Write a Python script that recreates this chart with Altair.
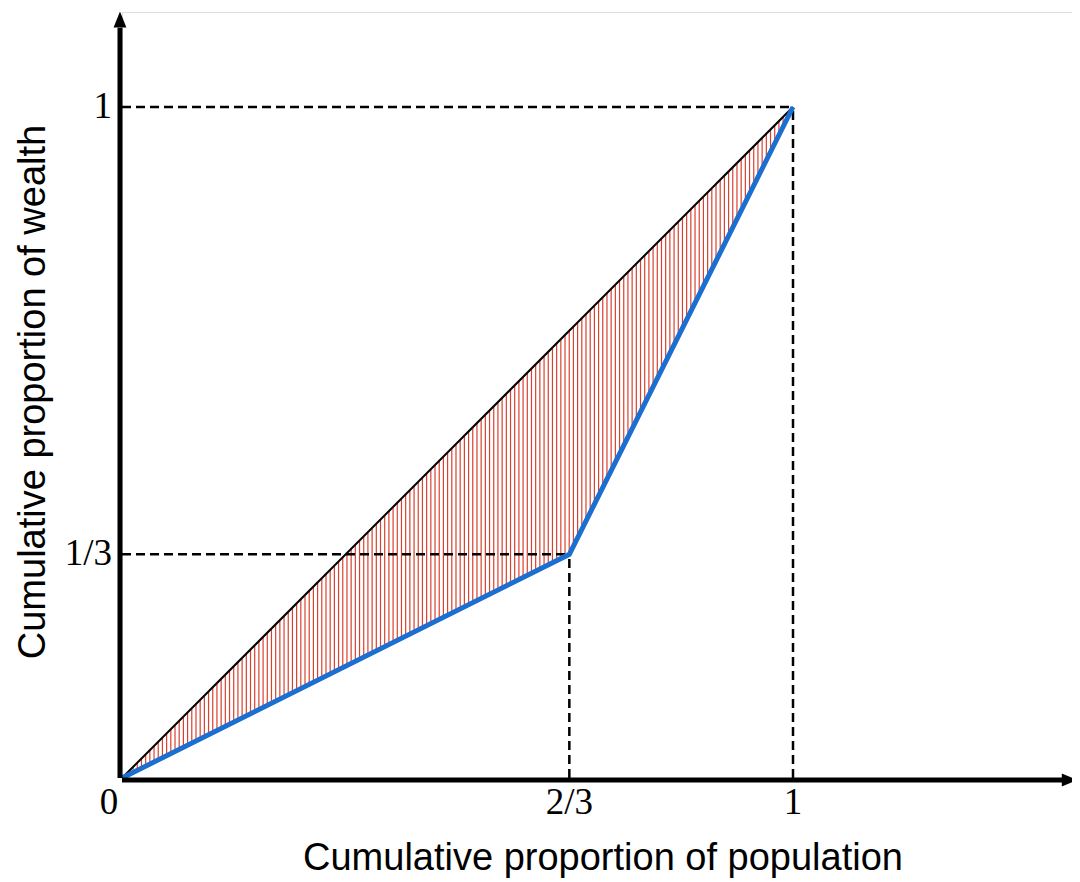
import altair as alt
import numpy as np
import pandas as pd

# Lorenz curve data
pop_share = [0.0, 2/3, 1.0]
wealth_share = [0.0, 1/3, 1.0]
equality_x = [0.0, 1.0]
equality_y = [0.0, 1.0]

x_tick_vals = [2/3, 1.0]
x_tick_labels = ["2/3", "1"]
y_tick_vals = [1/3, 1.0]
y_tick_labels = ["1/3", "1"]

x_title = "Cumulative proportion of population"
y_title = "Cumulative proportion of wealth"

XMAX = 950 / 671
YMAX = 766 / 671
W, H = 950, 766

xs = alt.Scale(domain=[0, XMAX], nice=False, zero=False)
ys = alt.Scale(domain=[0, YMAX], nice=False, zero=False)

# hatch between equality line and Lorenz curve
hx = np.arange(0.004, 1.0, 0.00625)
hatch = pd.DataFrame({"x": hx, "y1": np.interp(hx, equality_x, equality_y),
                      "y2": np.interp(hx, pop_share, wealth_share)})

lor = pd.DataFrame({"x": pop_share, "y": wealth_share})
eq = pd.DataFrame({"x": equality_x, "y": equality_y})

# dashed guide lines from tick positions
hguides = pd.DataFrame({"x": [0.0] * len(y_tick_vals), "x2": [pop_share[1], 1.0], "y": y_tick_vals})
vguides = pd.DataFrame({"x": x_tick_vals, "y": [0.0] * len(x_tick_vals), "y2": [wealth_share[1], 1.0]})

X = lambda f: alt.X(f, type="quantitative", scale=xs, axis=None)
Y = lambda f: alt.Y(f, type="quantitative", scale=ys, axis=None)

hatch_layer = alt.Chart(hatch).mark_rule(color="#d8402f", strokeWidth=1.2, opacity=1).encode(
    x=X("x"), y=Y("y1"), y2="y2")

dash_h = alt.Chart(hguides).mark_rule(color="black", strokeWidth=2.5, strokeDash=[9, 5]).encode(
    x=X("x"), x2="x2", y=Y("y"))
dash_v = alt.Chart(vguides).mark_rule(color="black", strokeWidth=2.5, strokeDash=[9, 5]).encode(
    x=X("x"), y=Y("y"), y2="y2")

eq_layer = alt.Chart(eq).mark_line(color="black", strokeWidth=2).encode(x=X("x"), y=Y("y"))
lor_layer = alt.Chart(lor).mark_line(color="#1a6fd0", strokeWidth=5).encode(x=X("x"), y=Y("y"))

axes_df = pd.DataFrame({"x": [0.0, -0.003], "x2": [1.402, -0.003], "y": [-0.003, 0.0], "y2": [-0.003, 1.118]})
axis_lines = alt.Chart(axes_df).mark_rule(color="black", strokeWidth=5).encode(
    x=X("x"), x2="x2", y=Y("y"), y2="y2")

arrow_up = alt.Chart(pd.DataFrame({"x": [-0.003], "y": [1.1305]})).mark_point(
    shape="M0,-1L0.8,1L-0.8,1Z", filled=True, color="black", opacity=1, size=256,
    strokeJoin="round", strokeWidth=2).encode(x=X("x"), y=Y("y"))
arrow_right = alt.Chart(pd.DataFrame({"x": [1.4125], "y": [-0.003]})).mark_point(
    shape="M1,0L-1,0.8L-1,-0.8Z", filled=True, color="black", opacity=1, size=256,
    strokeJoin="round", strokeWidth=2).encode(x=X("x"), y=Y("y"))

font_serif = "Liberation Serif"
FS = 37
xt = alt.Chart(pd.DataFrame({"x": x_tick_vals, "t": x_tick_labels, "y": [0.0, 0.0]})).mark_text(
    font=font_serif, fontSize=FS, baseline="top", dy=7, color="black").encode(
    x=X("x"), y=Y("y"), text="t")
yt = alt.Chart(pd.DataFrame({"y": y_tick_vals, "t": y_tick_labels, "x": [0.0, 0.0]})).mark_text(
    font=font_serif, fontSize=FS, baseline="middle", align="right", dx=-10, color="black").encode(
    x=X("x"), y=Y("y"), text="t")
zero = alt.Chart(pd.DataFrame({"x": [0.0], "y": [0.0], "t": ["0"]})).mark_text(
    font=font_serif, fontSize=FS, baseline="top", dx=-13, dy=7, color="black").encode(
    x=X("x"), y=Y("y"), text="t")

xtitle = alt.Chart(pd.DataFrame({"t": [x_title]})).mark_text(
    font="Liberation Sans", fontSize=38, color="black", baseline="middle").encode(
    x=alt.value(481), y=alt.value(847), text="t")
ytitle = alt.Chart(pd.DataFrame({"t": [y_title]})).mark_text(
    font="Liberation Sans", fontSize=38, color="black", angle=270, baseline="middle").encode(
    x=alt.value(-88), y=alt.value(380), text="t")

chart = alt.layer(hatch_layer, dash_h, dash_v, eq_layer, lor_layer, axis_lines,
                  arrow_up, arrow_right, xt, yt, zero, xtitle, ytitle).properties(
    width=W, height=H,
    autosize=alt.AutoSizeParams(type="none"),
    padding={"left": 114, "top": 4, "right": 0, "bottom": 100},
).configure_view(stroke=None).configure(background="white")

chart.save("out.html", embed_options={"renderer": "svg", "actions": False})
